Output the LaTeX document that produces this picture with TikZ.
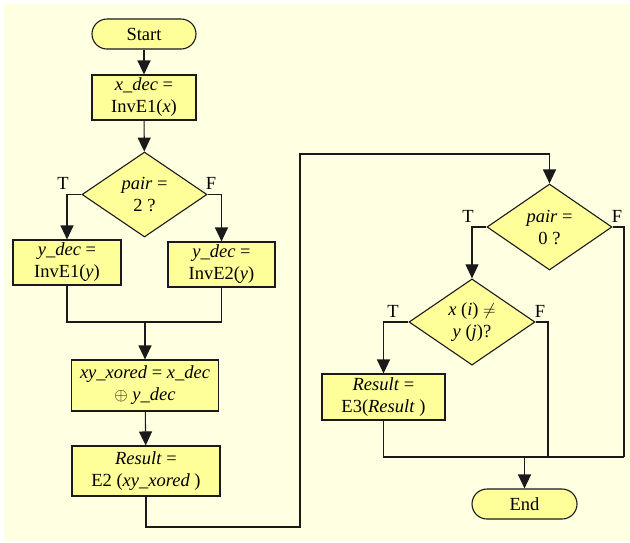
\documentclass[tikz,border=0pt]{standalone}
\usepackage{fontspec}
\setmainfont{Liberation Serif}
\usetikzlibrary{shapes.geometric,arrows.meta}
\definecolor{bgc}{HTML}{FFFFE1}
\definecolor{nodec}{HTML}{FFFF99}
\definecolor{linec}{HTML}{1A1A1A}
\tikzset{
  base/.style={draw=linec, line width=1.1pt, fill=nodec, align=center, inner sep=0pt,
    font=\fontsize{18.5}{22}\selectfont},
  term/.style={base, rounded corners=15pt},
  procbox/.style={base, rectangle},
  decis/.style={base, diamond},
  conn/.style={draw=linec, line width=1.1pt},
  arr/.style={conn, -{Triangle[width=13pt,length=14pt]}},
  tf/.style={font=\fontsize{18.5}{22}\selectfont, inner sep=0pt}
}
\begin{document}
\begin{tikzpicture}[x=1pt,y=-1pt]
\useasboundingbox (0,0) rectangle (630,542);
\fill[bgc] (4,4) rectangle (630,541);
% nodes
\node[term, minimum width=104pt, minimum height=30pt] (start) at (144,34) {Start};
\node[procbox, minimum width=104pt, minimum height=45pt] (xdec) at (144,97.5) {\textit{x\_dec} =\\InvE1(\textit{x})};
\node[decis, minimum width=125pt, minimum height=85pt] (d1) at (144.5,194.5) {\textit{pair} =\\2 ?};
\node[procbox, minimum width=108pt, minimum height=45pt] (ydecA) at (67,262.5) {\textit{y\_dec} =\\InvE1(\textit{y})};
\node[procbox, minimum width=107pt, minimum height=45pt] (ydecB) at (221.5,264.5) {\textit{y\_dec} =\\InvE2(\textit{y})};
\node[procbox, minimum width=147pt, minimum height=51pt] (xor) at (145,385.5) {\textit{xy\_xored} = \textit{x\_dec}\\$\oplus$ \textit{y\_dec}};
\node[procbox, minimum width=148pt, minimum height=50pt] (res2) at (146,471) {\textit{Result} =\\E2 (\textit{xy\_xored} )};
\node[decis, minimum width=125pt, minimum height=86pt] (d2) at (549.5,227) {\textit{pair} =\\0 ?};
\node[decis, minimum width=126pt, minimum height=84pt] (d3) at (472,322) {\textit{x} (\textit{i}) $\neq$\\\textit{y} (\textit{j})?};
\node[procbox, minimum width=123pt, minimum height=46pt] (res3) at (383.5,397) {\textit{Result} =\\E3(\textit{Result} )};
\node[term, minimum width=105pt, minimum height=30pt] (end) at (524.5,504) {End};
% labels
\node[tf] (t1) at (63,183) {T};
\node[tf] (f1) at (211,183) {F};
\node[tf] (t2) at (468,216) {T};
\node[tf] (f2) at (617,216) {F};
\node[tf] (t3) at (393,311) {T};
\node[tf] (f3) at (540,311) {F};
% coordinates
\coordinate (m1) at (145,322);
\coordinate (lp1) at (146,527);
\coordinate (lp2) at (300,527);
\coordinate (lp3) at (300,154);
\coordinate (lp4) at (549.5,154);
\coordinate (fr) at (624,457);
\coordinate (fm) at (548,457);
\coordinate (jn) at (524.5,457);
% connectors
\draw[arr] (start) -- (xdec);
\draw[arr] (xdec) -- (d1);
\draw[arr] (d1.west) -| (ydecA.north);
\draw[arr] (d1.east) -| (ydecB.north);
\draw[conn] (ydecA.south) |- (m1) -| (ydecB.south);
\draw[arr] (m1) -- (xor.north);
\draw[arr] (xor) -- (res2);
\draw[conn] (res2.south) -- (lp1) -- (lp2) -- (lp3) -- (lp4);
\draw[arr] (lp4) -- (d2.north);
\draw[arr] (d2.west) -| (d3.north);
\draw[conn] (d2.east) -| (fr);
\draw[arr] (d3.west) -| (res3.north);
\draw[conn] (d3.east) -| (fm);
\draw[conn] (res3.south) |- (fr);
\draw[arr] (jn) -- (end.north);
\end{tikzpicture}
\end{document}
